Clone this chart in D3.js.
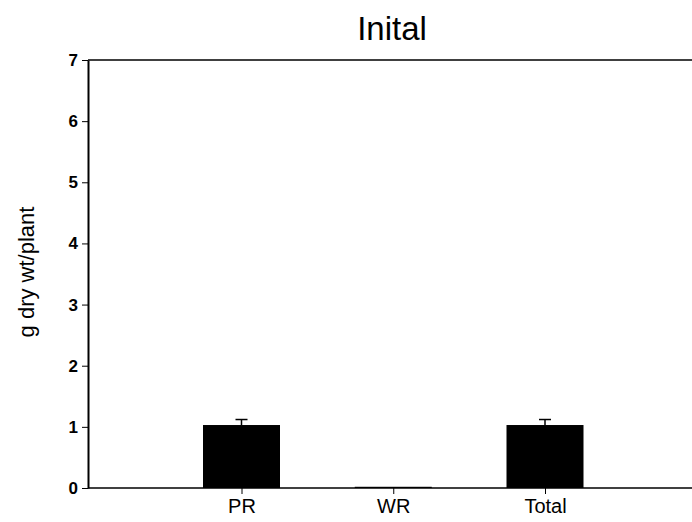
<!DOCTYPE html>
<html>
<head>
<meta charset="utf-8">
<script src="https://cdn.jsdelivr.net/npm/d3@7"></script>
<style>
  body { margin: 0; background: #fff; }
  text { font-family: "Liberation Sans", Arial, sans-serif; fill: #000; }
</style>
</head>
<body>
<svg id="chart" width="692" height="522"></svg>
<script>
const categories = ['PR', 'WR', 'Total'];
const values = [1.03, 0.02, 1.03];
const errors = [0.09, 0, 0.09];
const yTicks = [0, 1, 2, 3, 4, 5, 6, 7];

const svg = d3.select('#chart');
const plot = { left: 88, right: 692, top: 60, bottom: 488 };

const x = d3.scalePoint()
            .domain(categories)
            .range([241.5, 545]);
const barW = 77;

const y = d3.scaleLinear()
            .domain([0, 7])
            .range([plot.bottom, plot.top]);

// bars
svg.selectAll('.bar')
   .data(categories)
   .enter()
   .append('rect')
   .attr('class', 'bar')
   .attr('x', d => x(d) - barW / 2)
   .attr('y', (d, i) => y(values[i]))
   .attr('width', barW)
   .attr('height', (d, i) => y(0) - y(values[i]))
   .attr('fill', '#000');

// error bars
categories.forEach((c, i) => {
  if (!errors[i]) return;
  const g = svg.append('g').attr('stroke', '#000').attr('stroke-width', 1.5);
  g.append('line')
   .attr('x1', x(c)).attr('x2', x(c))
   .attr('y1', y(values[i])).attr('y2', y(values[i] + errors[i]));
  g.append('line')
   .attr('x1', x(c) - 6).attr('x2', x(c) + 6)
   .attr('y1', y(values[i] + errors[i])).attr('y2', y(values[i] + errors[i]));
});

// y axis
const yAxis = d3.axisLeft(y).tickValues(yTicks).tickFormat(d3.format('d'))
                .tickSize(6).tickPadding(4).tickSizeOuter(0);
const gy = svg.append('g')
   .attr('transform', `translate(${plot.left},0)`)
   .call(yAxis);
gy.select('.domain').attr('stroke-width', 2);
gy.selectAll('text').style('font-size', '17px').style('font-weight', 'bold')
  .style('font-family', '"Liberation Sans", Arial, sans-serif');

// x axis
const xAxis = d3.axisBottom(x).tickSize(6).tickPadding(5);
const gx = svg.append('g')
   .attr('transform', `translate(0,${plot.bottom})`)
   .call(xAxis);
gx.select('.domain').remove();
gx.selectAll('text').style('font-size', '20px')
  .style('font-family', '"Liberation Sans", Arial, sans-serif');
svg.append('line')
   .attr('x1', plot.left).attr('x2', plot.right)
   .attr('y1', plot.bottom).attr('y2', plot.bottom)
   .attr('stroke', '#000').attr('stroke-width', 1.5);

// top frame line
svg.append('line')
   .attr('x1', plot.left).attr('x2', plot.right)
   .attr('y1', plot.top).attr('y2', plot.top)
   .attr('stroke', '#000').attr('stroke-width', 1.5);

// title
svg.append('text')
   .attr('x', 392).attr('y', 40)
   .attr('text-anchor', 'middle')
   .style('font-size', '33px')
   .text('Inital');

// y label
svg.append('text')
   .attr('transform', 'translate(34,272) rotate(-90)')
   .attr('text-anchor', 'middle')
   .style('font-size', '22px')
   .text('g dry wt/plant');
</script>
</body>
</html>
